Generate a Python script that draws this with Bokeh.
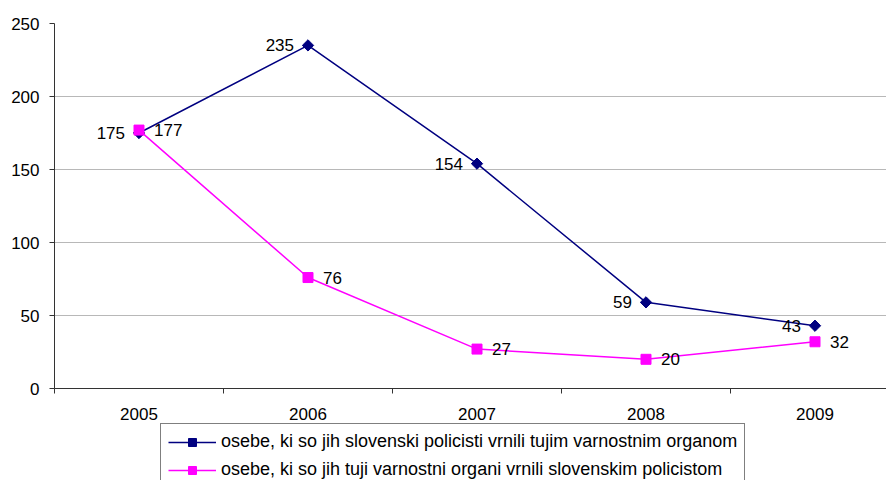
import math
from bokeh.plotting import figure
from bokeh.layouts import column
from bokeh.models import Range1d, FixedTicker, Legend, LegendItem, ColumnDataSource
from bokeh.core.properties import value
from bokeh.embed import file_html
from bokeh.resources import INLINE

years = [2005, 2006, 2007, 2008, 2009]
year_labels = ["2005", "2006", "2007", "2008", "2009"]
returned_by_slo = [175, 235, 154, 59, 43]
returned_to_slo = [177, 76, 27, 20, 32]
series_names = [
    "osebe, ki so jih slovenski policisti vrnili tujim varnostnim organom",
    "osebe, ki so jih tuji varnostni organi vrnili slovenskim policistom",
]
y_ticks = [0, 50, 100, 150, 200, 250]

FONT = "Liberation Sans"
NAVY = "#000080"
MAGENTA = "#FF00FF"

p = figure(frame_width=832, frame_height=365, output_backend="svg", toolbar_location=None,
           x_range=Range1d(2004.5, 2004.5 + 832 / 169), y_range=Range1d(0, 250),
           min_border_left=54, min_border_right=0, min_border_top=23, min_border_bottom=0)
p.outline_line_color = None
p.background_fill_color = "white"
p.border_fill_color = "white"

s1 = ColumnDataSource(dict(x=years, y=returned_by_slo, t=[str(v) for v in returned_by_slo]))
s2 = ColumnDataSource(dict(x=years, y=returned_to_slo, t=[str(v) for v in returned_to_slo]))


def add_series(fig):
    a = fig.line("x", "y", source=s1, line_color=NAVY, line_width=1.5)
    b = fig.scatter("x", "y", source=s1, marker="square", angle=math.pi / 4, size=8,
                    fill_color=NAVY, line_color=NAVY)
    c = fig.line("x", "y", source=s2, line_color=MAGENTA, line_width=1.5)
    d = fig.scatter("x", "y", source=s2, marker="square", size=10, fill_color=MAGENTA, line_color=MAGENTA)
    return a, b, c, d


add_series(p)

p.text("x", "y", text="t", source=s1, x_offset=-14, text_align="right", text_baseline="middle",
       text_font=value(FONT), text_font_size="17px", text_color="black")
p.text("x", "y", text="t", source=s2, x_offset=15, text_align="left", text_baseline="middle",
       text_font=value(FONT), text_font_size="17px", text_color="black")

# y axis
p.yaxis.ticker = FixedTicker(ticks=y_ticks)
p.yaxis.major_label_text_font = FONT
p.yaxis.major_label_text_font_size = "17px"
p.yaxis.major_label_text_color = "black"
p.yaxis.axis_line_color = "#333333"
p.yaxis.major_tick_line_color = "#333333"
p.yaxis.major_tick_in = 0
p.yaxis.major_tick_out = 5
p.yaxis.minor_tick_line_color = None
p.yaxis.major_label_standoff = 10

# x axis
p.xaxis.ticker = FixedTicker(ticks=years, minor_ticks=[y - 0.5 for y in years] + [years[-1] + 0.5])
p.xaxis.major_label_overrides = {y: lab for y, lab in zip(years, year_labels)}
p.xaxis.major_label_text_font = FONT
p.xaxis.major_label_text_font_size = "17px"
p.xaxis.major_label_text_color = "black"
p.xaxis.axis_line_color = "#333333"
p.xaxis.major_tick_line_color = None
p.xaxis.major_tick_in = 0
p.xaxis.major_tick_out = 0
p.xaxis.minor_tick_line_color = "#333333"
p.xaxis.minor_tick_in = 0
p.xaxis.minor_tick_out = 5
p.xaxis.major_label_standoff = 14

p.xgrid.grid_line_color = None
p.ygrid.ticker = FixedTicker(ticks=y_ticks)
p.ygrid.grid_line_color = "#b8b8b8"
p.ygrid.grid_line_width = 1

# legend strip below the chart (its own series renderers sit outside its visible range)
lf = figure(width=886, height=58, output_backend="svg", toolbar_location=None,
            x_range=Range1d(0, 1), y_range=Range1d(0, 1),
            x_axis_location=None, y_axis_location=None,
            min_border_left=0, min_border_right=0, min_border_top=0, min_border_bottom=0)
lf.outline_line_color = None
lf.xgrid.visible = False
lf.ygrid.visible = False
l1, m1, l2, m2 = add_series(lf)

legend = Legend(items=[LegendItem(label=series_names[0], renderers=[l1, m1]),
                       LegendItem(label=series_names[1], renderers=[l2, m2])],
                location=(106, -8), orientation="vertical",
                label_text_font=FONT, label_text_font_size="18px", label_text_color="black",
                border_line_color="black", border_line_width=1,
                glyph_width=48, glyph_height=20, label_height=20, spacing=7,
                padding=7, margin=0, label_standoff=5, background_fill_alpha=1)
lf.add_layout(legend, "center")

layout = column(p, lf, spacing=0)
open("out.html", "w").write(file_html(layout, INLINE))
